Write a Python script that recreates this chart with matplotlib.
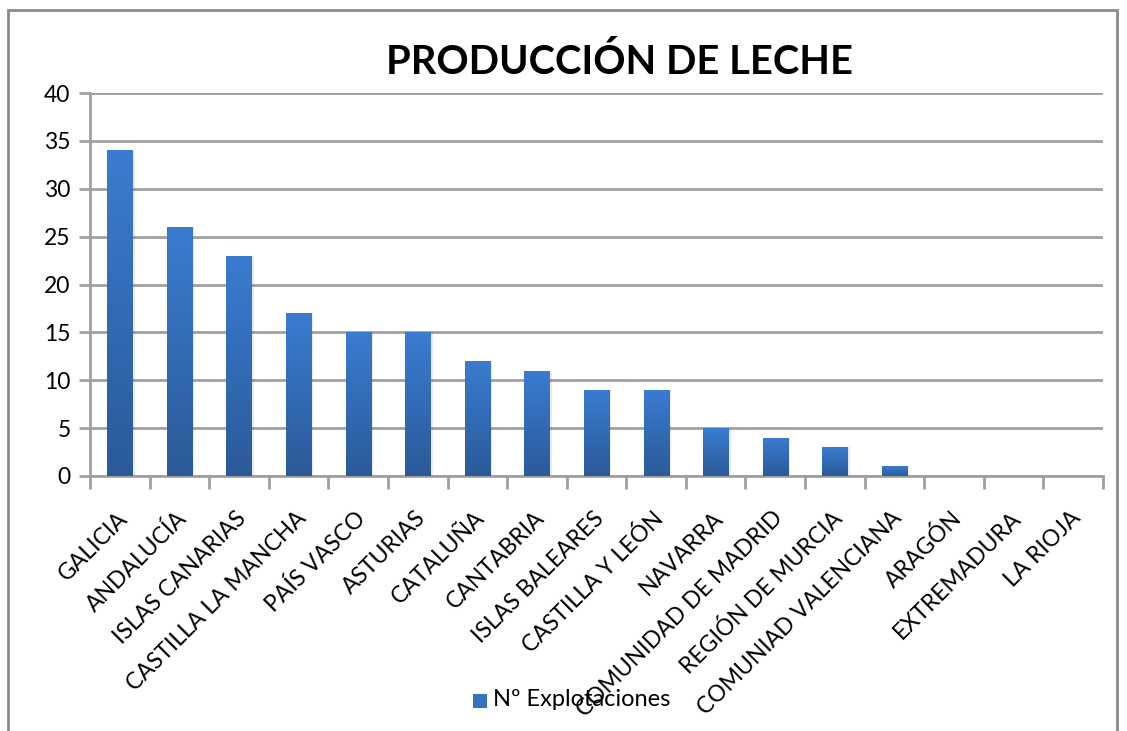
import matplotlib
matplotlib.use("Agg")
import matplotlib.pyplot as plt
import numpy as np
from matplotlib.patches import Rectangle
from matplotlib.colors import LinearSegmentedColormap

categories = ["GALICIA", "ANDALUCÍA", "ISLAS CANARIAS", "CASTILLA LA MANCHA", "PAÍS VASCO",
              "ASTURIAS", "CATALUÑA", "CANTABRIA", "ISLAS BALEARES", "CASTILLA Y LEÓN",
              "NAVARRA", "COMUNIDAD DE MADRID", "REGIÓN DE MURCIA", "COMUNIAD VALENCIANA",
              "ARAGÓN", "EXTREMADURA", "LA RIOJA"]
values = [34, 26, 23, 17, 15, 15, 12, 11, 9, 9, 5, 4, 3, 1, 0, 0, 0]
series_name = "Nº Explotaciones"
title = "PRODUCCIÓN DE LECHE"
yticks = [0, 5, 10, 15, 20, 25, 30, 35, 40]

plt.rcParams['font.family'] = ['Lato', 'DejaVu Sans']

W, H = 1127, 731
fig = plt.figure(figsize=(W/100, H/100), dpi=100)
ax = fig.add_axes([90/W, 1-476/H, (1103-90)/W, (476-93)/H])

# figure frame
fig.patches.append(Rectangle((8/W, -0.02), (1117-8)/W, 1-10/H+0.02, transform=fig.transFigure,
                             fill=False, edgecolor='#8c8c8c', linewidth=2, zorder=0))

n = len(categories)
x = np.arange(n)
bw = 0.42
cmap = LinearSegmentedColormap.from_list('g', ['#2b5a98', '#3a7cd1'])
bars = ax.bar(x, values, width=bw, color='none', edgecolor='none', zorder=3)
grad = np.linspace(0, 1, 256).reshape(-1, 1)
for b in bars:
    h = b.get_height()
    if h <= 0:
        continue
    ax.add_patch(Rectangle((b.get_x()+0.04, 0), b.get_width(), h, color='#000000', alpha=0.08, zorder=2, lw=0))
    im = ax.imshow(grad, extent=[b.get_x(), b.get_x()+b.get_width(), 0, h], origin='lower',
                   cmap=cmap, aspect='auto', zorder=3)
    im.set_clip_path(b)

ax.set_xlim(-0.5, n-0.5)
ax.set_ylim(0, 40)
ax.set_yticks(yticks)
ax.set_yticklabels([str(v) for v in yticks], fontsize=16.5)
ax.yaxis.grid(True, color='#a0a0a0', linewidth=2, zorder=1)
ax.set_axisbelow(True)

ax.set_xticks(np.arange(-0.5, n, 1))
ax.set_xticklabels([])
ax.tick_params(axis='x', length=9, width=2, color='#a0a0a0', direction='out')
ax.tick_params(axis='y', length=8, width=2, color='#a0a0a0', direction='out', pad=6)
for s in ['top', 'right']:
    ax.spines[s].set_visible(False)
for s in ['left', 'bottom']:
    ax.spines[s].set_color('#a0a0a0')
    ax.spines[s].set_linewidth(2)

for i, c in enumerate(categories):
    ax.annotate(c, xy=(i, 0), xycoords='data', xytext=(3, -28), textcoords='offset points',
                rotation=45, rotation_mode='anchor', ha='right', va='center', fontsize=16.5)

fig.text(620/W, 1-62/H, title, ha='center', va='center', fontsize=28.7, fontweight='bold')

# legend
fig.patches.append(Rectangle((473/W, 1-708/H), 14/W, 14/H, transform=fig.transFigure,
                             facecolor='#3572c0', edgecolor='none'))
fig.text(493/W, 1-700/H, series_name, ha='left', va='center', fontsize=17)

fig.savefig('out.png', dpi=100)
